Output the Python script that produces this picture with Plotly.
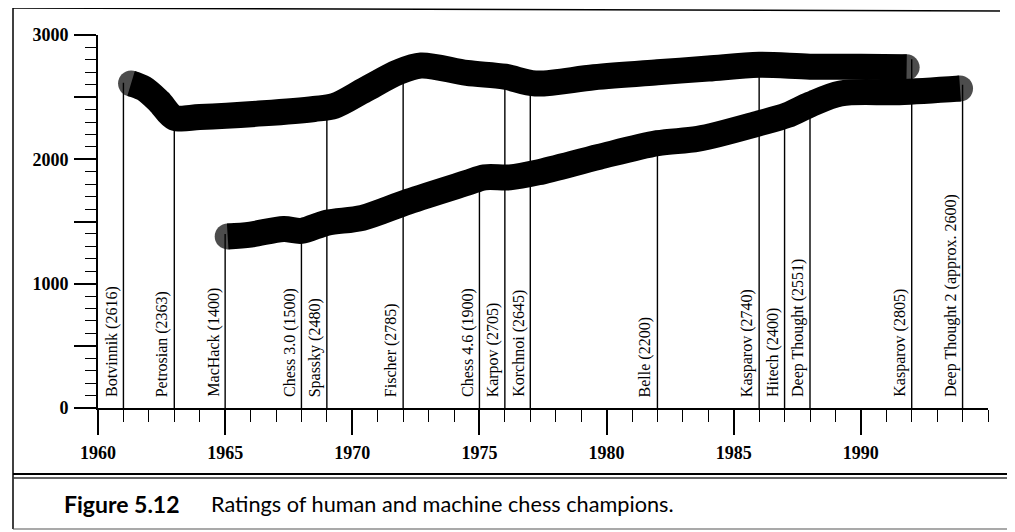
import plotly.graph_objects as go

# ---------------- data ----------------
human_years = [1961.3, 1961.8, 1962.4, 1963.0, 1964.0, 1966.5, 1968.5, 1969.3, 1970.5,
               1971.8, 1972.7, 1974.5, 1976.0, 1977.2, 1979.5, 1982.0, 1984.0, 1986.0,
               1988.0, 1990.0, 1991.8]
human_ratings = [2610, 2570, 2465, 2335, 2340, 2370, 2405, 2430, 2560,
                 2700, 2755, 2695, 2665, 2610, 2660, 2700, 2730, 2760,
                 2745, 2745, 2740]

machine_years = [1965.1, 1966.0, 1967.3, 1968.0, 1969.0, 1970.4, 1972.2, 1974.5, 1975.2,
                 1976.2, 1977.3, 1979.7, 1982.0, 1983.6, 1986.0, 1987.1, 1988.0, 1989.2,
                 1991.5, 1993.9]
machine_ratings = [1380, 1395, 1440, 1425, 1490, 1530, 1660, 1810, 1855,
                   1855, 1895, 2020, 2130, 2165, 2290, 2355, 2440, 2530,
                   2540, 2570]

event_years = [1961, 1963, 1965, 1968, 1969, 1972, 1975, 1976, 1977, 1982,
               1986, 1987, 1988, 1992, 1994]
event_ratings = [2616, 2363, 1400, 1500, 2480, 2785, 1900, 2705, 2645, 2200,
                 2740, 2400, 2551, 2805, 2600]
event_labels = ["Botvinnik (2616)", "Petrosian (2363)", "MacHack (1400)",
                "Chess 3.0 (1500)", "Spassky (2480)", "Fischer (2785)",
                "Chess 4.6 (1900)", "Karpov (2705)", "Korchnoi (2645)",
                "Belle (2200)", "Kasparov (2740)", "Hitech (2400)",
                "Deep Thought (2551)", "Kasparov (2805)",
                "Deep Thought 2 (approx. 2600)"]

x_tickvals = [1960, 1965, 1970, 1975, 1980, 1985, 1990]
x_ticktext = ["1960", "1965", "1970", "1975", "1980", "1985", "1990"]
y_tickvals = [0, 500, 1000, 1500, 2000, 2500, 3000]
y_ticktext = ["0", "", "1000", "", "2000", "", "3000"]

caption_label = "Figure 5.12"
caption_text = "Ratings of human and machine chess champions."

# ---------------- layout geometry ----------------
OFF = 8                      # the page body margin offsets the figure by 8px
W, H = 1015 - OFF, 532 - OFF
L, R, T, B = 98, 988, 35, 408   # plot-area box in screen pixels


def px_x(px):
    return (px - L) / (R - L)


def px_y(py):
    return (B - py) / (B - T)


fig = go.Figure()

# event marker lines (drawn first, behind the curves)
lx, ly = [], []
for yr, rt in zip(event_years, event_ratings):
    lx += [yr, yr, None]
    ly += [0, rt, None]
fig.add_trace(go.Scatter(x=lx, y=ly, mode="lines",
                         line=dict(color="black", width=1.4),
                         hoverinfo="skip", showlegend=False))

LW = 26
for xs, ys in ((human_years, human_ratings), (machine_years, machine_ratings)):
    sizes = [LW] + [0] * (len(xs) - 2) + [LW]
    fig.add_trace(go.Scatter(x=xs, y=ys, mode="lines+markers",
                             line=dict(color="black", width=LW, shape="spline", smoothing=0.9),
                             marker=dict(color="black", size=sizes, line=dict(width=0)),
                             showlegend=False))

# rotated event labels
for yr, lab in zip(event_years, event_labels):
    fig.add_annotation(x=yr, y=0, xref="x", yref="y", text=lab, showarrow=False,
                       textangle=-90, xanchor="right", yanchor="bottom",
                       xshift=-1, yshift=9,
                       font=dict(family="Liberation Serif", size=16, color="black"))

# caption
fig.add_annotation(x=px_x(62), y=px_y(504), xref="paper", yref="paper",
                   text="<b>" + caption_label + "</b>", showarrow=False,
                   xanchor="left", yanchor="middle",
                   font=dict(family="Lato", size=23, color="black"))
fig.add_annotation(x=px_x(209), y=px_y(504), xref="paper", yref="paper",
                   text=caption_text, showarrow=False,
                   xanchor="left", yanchor="middle",
                   font=dict(family="Lato", size=21.7, color="black"))

# frame lines
frame = [
    (13, 8, 1000, 11, "black", 1.5, "solid"),      # top
    (13, 8, 13, 529, "black", 1.5, "solid"),       # left
    (13, 529, 1012, 529, "#555555", 1.2, "solid"),  # bottom
    (1012, 30, 1012, 529, "#888888", 1.0, "dot"),  # right
    (13, 474, 1012, 474, "black", 1.8, "solid"),   # double rule
    (13, 478, 1012, 478, "#333333", 1.5, "solid"),
]
for x0, y0, x1, y1, c, w, d in frame:
    fig.add_shape(type="line", xref="paper", yref="paper",
                  x0=px_x(x0), y0=px_y(y0), x1=px_x(x1), y1=px_y(y1),
                  line=dict(color=c, width=w, dash=d))

tickfont = dict(family="Liberation Serif", size=18, color="black", weight=700)

fig.update_xaxes(range=[1960, 1995], showgrid=False, zeroline=False,
                 showline=True, linecolor="black", linewidth=2,
                 tickmode="array", tickvals=x_tickvals, ticktext=x_ticktext,
                 ticks="outside", ticklen=25, tickwidth=1.5, tickcolor="black",
                 ticklabelstandoff=2, tickfont=tickfont,
                 minor=dict(dtick=1, tick0=1960, ticks="outside", ticklen=12,
                            tickwidth=1.3, tickcolor="black", showgrid=False))
fig.update_yaxes(range=[0, 3000], showgrid=False, zeroline=False,
                 showline=True, linecolor="black", linewidth=2,
                 tickmode="array", tickvals=y_tickvals, ticktext=y_ticktext,
                 ticks="outside", ticklen=22, tickwidth=1.5, tickcolor="black",
                 ticklabelstandoff=2, tickfont=tickfont,
                 minor=dict(dtick=100, tick0=0, ticks="outside", ticklen=11,
                            tickwidth=1.3, tickcolor="black", showgrid=False))

fig.update_layout(width=W, height=H,
                  margin=dict(l=L - OFF, r=W - (R - OFF), t=T - OFF, b=H - (B - OFF)),
                  paper_bgcolor="white", plot_bgcolor="white", showlegend=False)

fig.write_html("out.html")
